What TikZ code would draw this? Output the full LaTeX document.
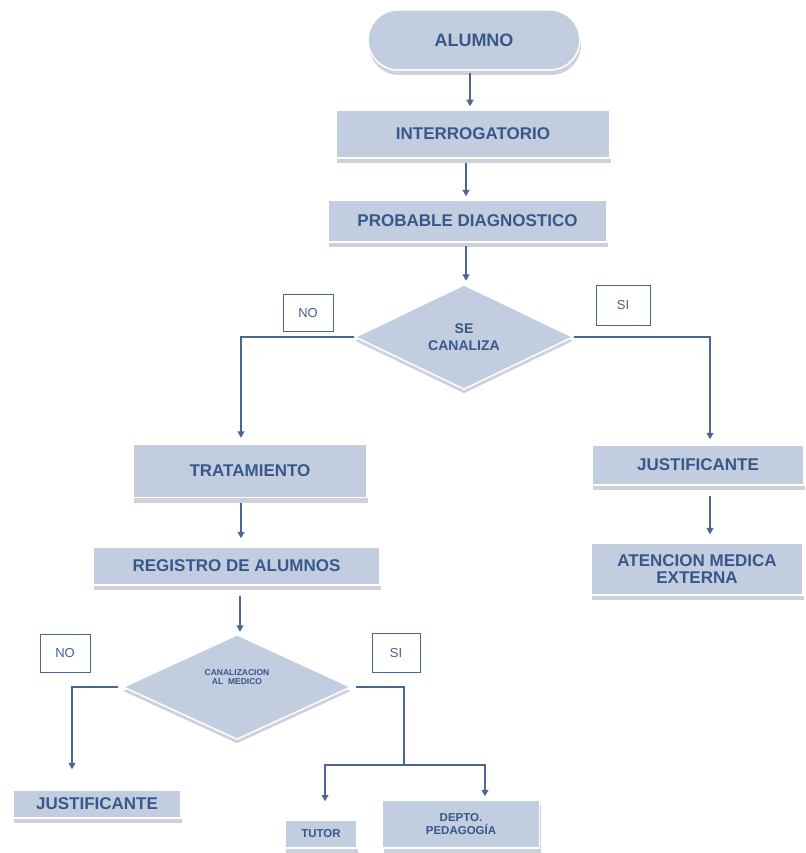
\documentclass[tikz,border=0pt]{standalone}
\usepackage{fontspec}
\setmainfont{Liberation Sans}
\usetikzlibrary{shapes.geometric,shadows,arrows.meta}
\definecolor{boxfill}{HTML}{C2CEDF}
\definecolor{txt}{HTML}{38578A}
\definecolor{ln}{HTML}{4B6791}
\definecolor{shd}{HTML}{CDD2DA}
\tikzset{
  procbox/.style={rectangle, fill=boxfill, draw=white, line width=1.5pt, text=txt,
    font=\fontsize{17}{19}\selectfont\bfseries, align=center, inner sep=0pt,
    drop shadow={shadow xshift=1pt, shadow yshift=-5pt, fill=shd, opacity=1}},
  decbox/.style={diamond, fill=boxfill, draw=white, line width=1.5pt, text=txt,
    align=center, inner sep=0pt,
    drop shadow={shadow xshift=0pt, shadow yshift=-4pt, fill=shd, opacity=1}},
  lblbox/.style={rectangle, draw=ln, line width=1pt, fill=white, text=txt!80!gray,
    font=\fontsize{13}{15}\selectfont, inner sep=0pt},
  arr/.style={draw=ln, line width=1.3pt, -{Triangle[width=7pt,length=6.5pt]}},
  ln/.style={draw=ln, line width=1.3pt}
}
\begin{document}
\begin{tikzpicture}[x=1pt,y=-1pt]
\useasboundingbox (0,0) rectangle (805,853);
% top column
\node[procbox, rounded corners=30pt, minimum width=212pt, minimum height=60pt,
  font=\fontsize{18}{20}\selectfont\bfseries] (alumno) at (474,40) {ALUMNO};
\node[procbox, minimum width=274pt, minimum height=48pt] (interr) at (473,134) {INTERROGATORIO};
\node[procbox, minimum width=279pt, minimum height=42pt] (prob) at (467.5,221) {PROBABLE DIAGNOSTICO};
\node[decbox, minimum width=218pt, minimum height=105pt,
  font=\fontsize{14}{17}\selectfont\bfseries] (d1) at (464,337) {SE\\CANALIZA};
\node[lblbox, minimum width=50pt, minimum height=37pt] (no1) at (308,313) {NO};
\node[lblbox, minimum width=54pt, minimum height=40pt] (si1) at (623,305) {SI};
% right branch
\node[procbox, minimum width=212pt, minimum height=40pt] (just1) at (698,465) {JUSTIFICANTE};
\node[procbox, minimum width=212pt, minimum height=52pt] (aten) at (697,569) {ATENCION MEDICA\\[-2pt]EXTERNA};
% left branch
\node[procbox, minimum width=234pt, minimum height=53pt] (trat) at (250,471) {TRATAMIENTO};
\node[procbox, minimum width=287pt, minimum height=38pt] (reg) at (236.5,566) {REGISTRO DE ALUMNOS};
\node[decbox, minimum width=228pt, minimum height=105pt,
  font=\fontsize{8.5}{9.5}\selectfont\bfseries] (d2) at (237,687) {CANALIZACION\\AL\ \ MEDICO\\[10pt]};
\node[lblbox, minimum width=50pt, minimum height=38pt] (no2) at (65,653) {NO};
\node[lblbox, minimum width=48pt, minimum height=39pt] (si2) at (396,653) {SI};
\node[procbox, minimum width=168pt, minimum height=28pt] (just2) at (97,804) {JUSTIFICANTE};
\node[procbox, minimum width=72pt, minimum height=28pt,
  font=\fontsize{11.5}{13}\selectfont\bfseries] (tutor) at (321,834) {TUTOR};
\node[procbox, minimum width=157pt, minimum height=48pt,
  font=\fontsize{11.5}{13}\selectfont\bfseries] (depto) at (461,824) {DEPTO.\\PEDAGOG\'IA};
\coordinate (split) at (404,765);
% connectors
\draw[arr, shorten <=2pt, shorten >=3pt] ([xshift=-4pt]alumno.south) -- ([xshift=-4pt]alumno.south |- interr.north);
\draw[arr, shorten <=4pt, shorten >=3pt] ([xshift=-7pt]interr.south) -- ([xshift=-7pt]interr.south |- prob.north);
\draw[arr, shorten <=3pt, shorten >=3pt] ([xshift=-1.5pt]prob.south) -- ([xshift=-1.5pt]prob.south |- d1.north);
\draw[arr, shorten >=6pt] (d1.west) -| ([xshift=-9pt]trat.north);
\draw[arr, shorten >=5pt] (d1.east) -| ([xshift=12pt]just1.north);
\draw[arr, shorten <=10pt, shorten >=8pt] ([xshift=12pt]just1.south) -- ([xshift=12pt]just1.south |- aten.north);
\draw[arr, shorten <=5pt, shorten >=8pt] ([xshift=-9pt]trat.south) -- ([xshift=-9pt]trat.south |- reg.north);
\draw[arr, shorten <=10pt, shorten >=2pt] ([xshift=3.5pt]reg.south) -- ([xshift=3.5pt]reg.south |- d2.north);
\draw[arr, shorten <=4pt, shorten >=20pt] (d2.west) -| ([xshift=-25pt]just2.north);
\draw[ln, shorten <=4pt] (d2.east) -| (split);
\draw[arr, shorten >=18pt] (split) -| ([xshift=4pt]tutor.north);
\draw[arr, shorten >=3pt] (split) -| ([xshift=24pt]depto.north);
\end{tikzpicture}
\end{document}
